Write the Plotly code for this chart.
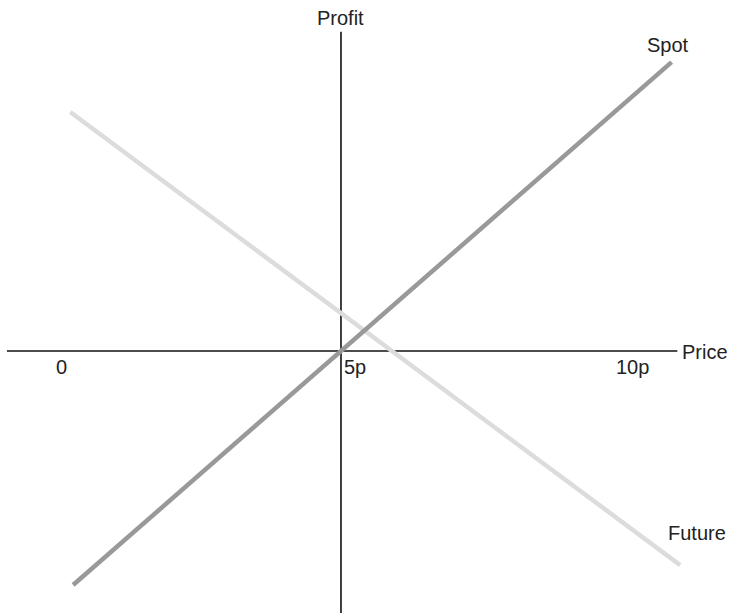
import plotly.graph_objects as go

# Data (price in units of p, profit in arbitrary units)
spot_price = [0.3, 10.8]
spot_profit = [-4.7, 5.8]
future_price = [0.25, 10.95]
future_profit = [4.8, -4.3]

tick_values = [0, 5, 10]
tick_labels = ["0", "5p", "10p"]

axis_origin = [5, 0]           # price, profit where axes cross
x_axis_extent = [-0.86, 10.9]
y_axis_extent = [-5.4, 6.41]

FONT = "Liberation Sans, Arial, Helvetica, sans-serif"
fig = go.Figure()

fig.add_trace(go.Scatter(x=future_price, y=future_profit, mode="lines",
                         line=dict(color="#dcdcdc", width=4.5), name="Future",
                         showlegend=False, hoverinfo="skip"))
fig.add_trace(go.Scatter(x=spot_price, y=spot_profit, mode="lines",
                         line=dict(color="#999999", width=4.5), name="Spot",
                         showlegend=False, hoverinfo="skip"))

# axes
fig.add_shape(type="line", x0=x_axis_extent[0], x1=x_axis_extent[1],
              y0=axis_origin[1], y1=axis_origin[1],
              line=dict(color="#111111", width=1.6), layer="below")
fig.add_shape(type="line", x0=axis_origin[0], x1=axis_origin[0],
              y0=y_axis_extent[0], y1=y_axis_extent[1],
              line=dict(color="#111111", width=1.6), layer="below")

annos = []
annos.append(dict(x=axis_origin[0], y=y_axis_extent[1], text="Profit",
                  xanchor="center", yanchor="bottom", yshift=1, showarrow=False))
annos.append(dict(x=x_axis_extent[1], y=axis_origin[1], text="Price",
                  xanchor="left", yanchor="middle", xshift=3, yshift=-1, showarrow=False))
for v, t in zip(tick_values, tick_labels):
    if v == axis_origin[0]:
        annos.append(dict(x=v, y=0, text=t, xanchor="left", yanchor="middle",
                          xshift=1, yshift=-16, showarrow=False))
    else:
        annos.append(dict(x=v, y=0, text=t, xanchor="center", yanchor="middle",
                          xshift=6, yshift=-16, showarrow=False))
annos.append(dict(x=spot_price[1], y=spot_profit[1], text="Spot",
                  xanchor="center", yanchor="bottom", xshift=-4, yshift=4, showarrow=False))
annos.append(dict(x=future_price[1], y=future_profit[1], text="Future",
                  xanchor="left", yanchor="bottom", xshift=-14, yshift=19, showarrow=False))

fig.update_layout(
    width=729, height=613,
    margin=dict(l=0, r=0, t=0, b=0),
    paper_bgcolor="white", plot_bgcolor="white",
    font=dict(family=FONT, size=20, color="#222222"),
    annotations=annos,
    xaxis=dict(range=[-0.982, 11.807], visible=False, fixedrange=True),
    yaxis=dict(range=[-5.261, 7.048], visible=False, fixedrange=True),
    showlegend=False,
)

fig.write_html("out.html", config={"displayModeBar": False},
               post_script="document.body.style.margin='0';document.body.style.overflow='hidden';")
